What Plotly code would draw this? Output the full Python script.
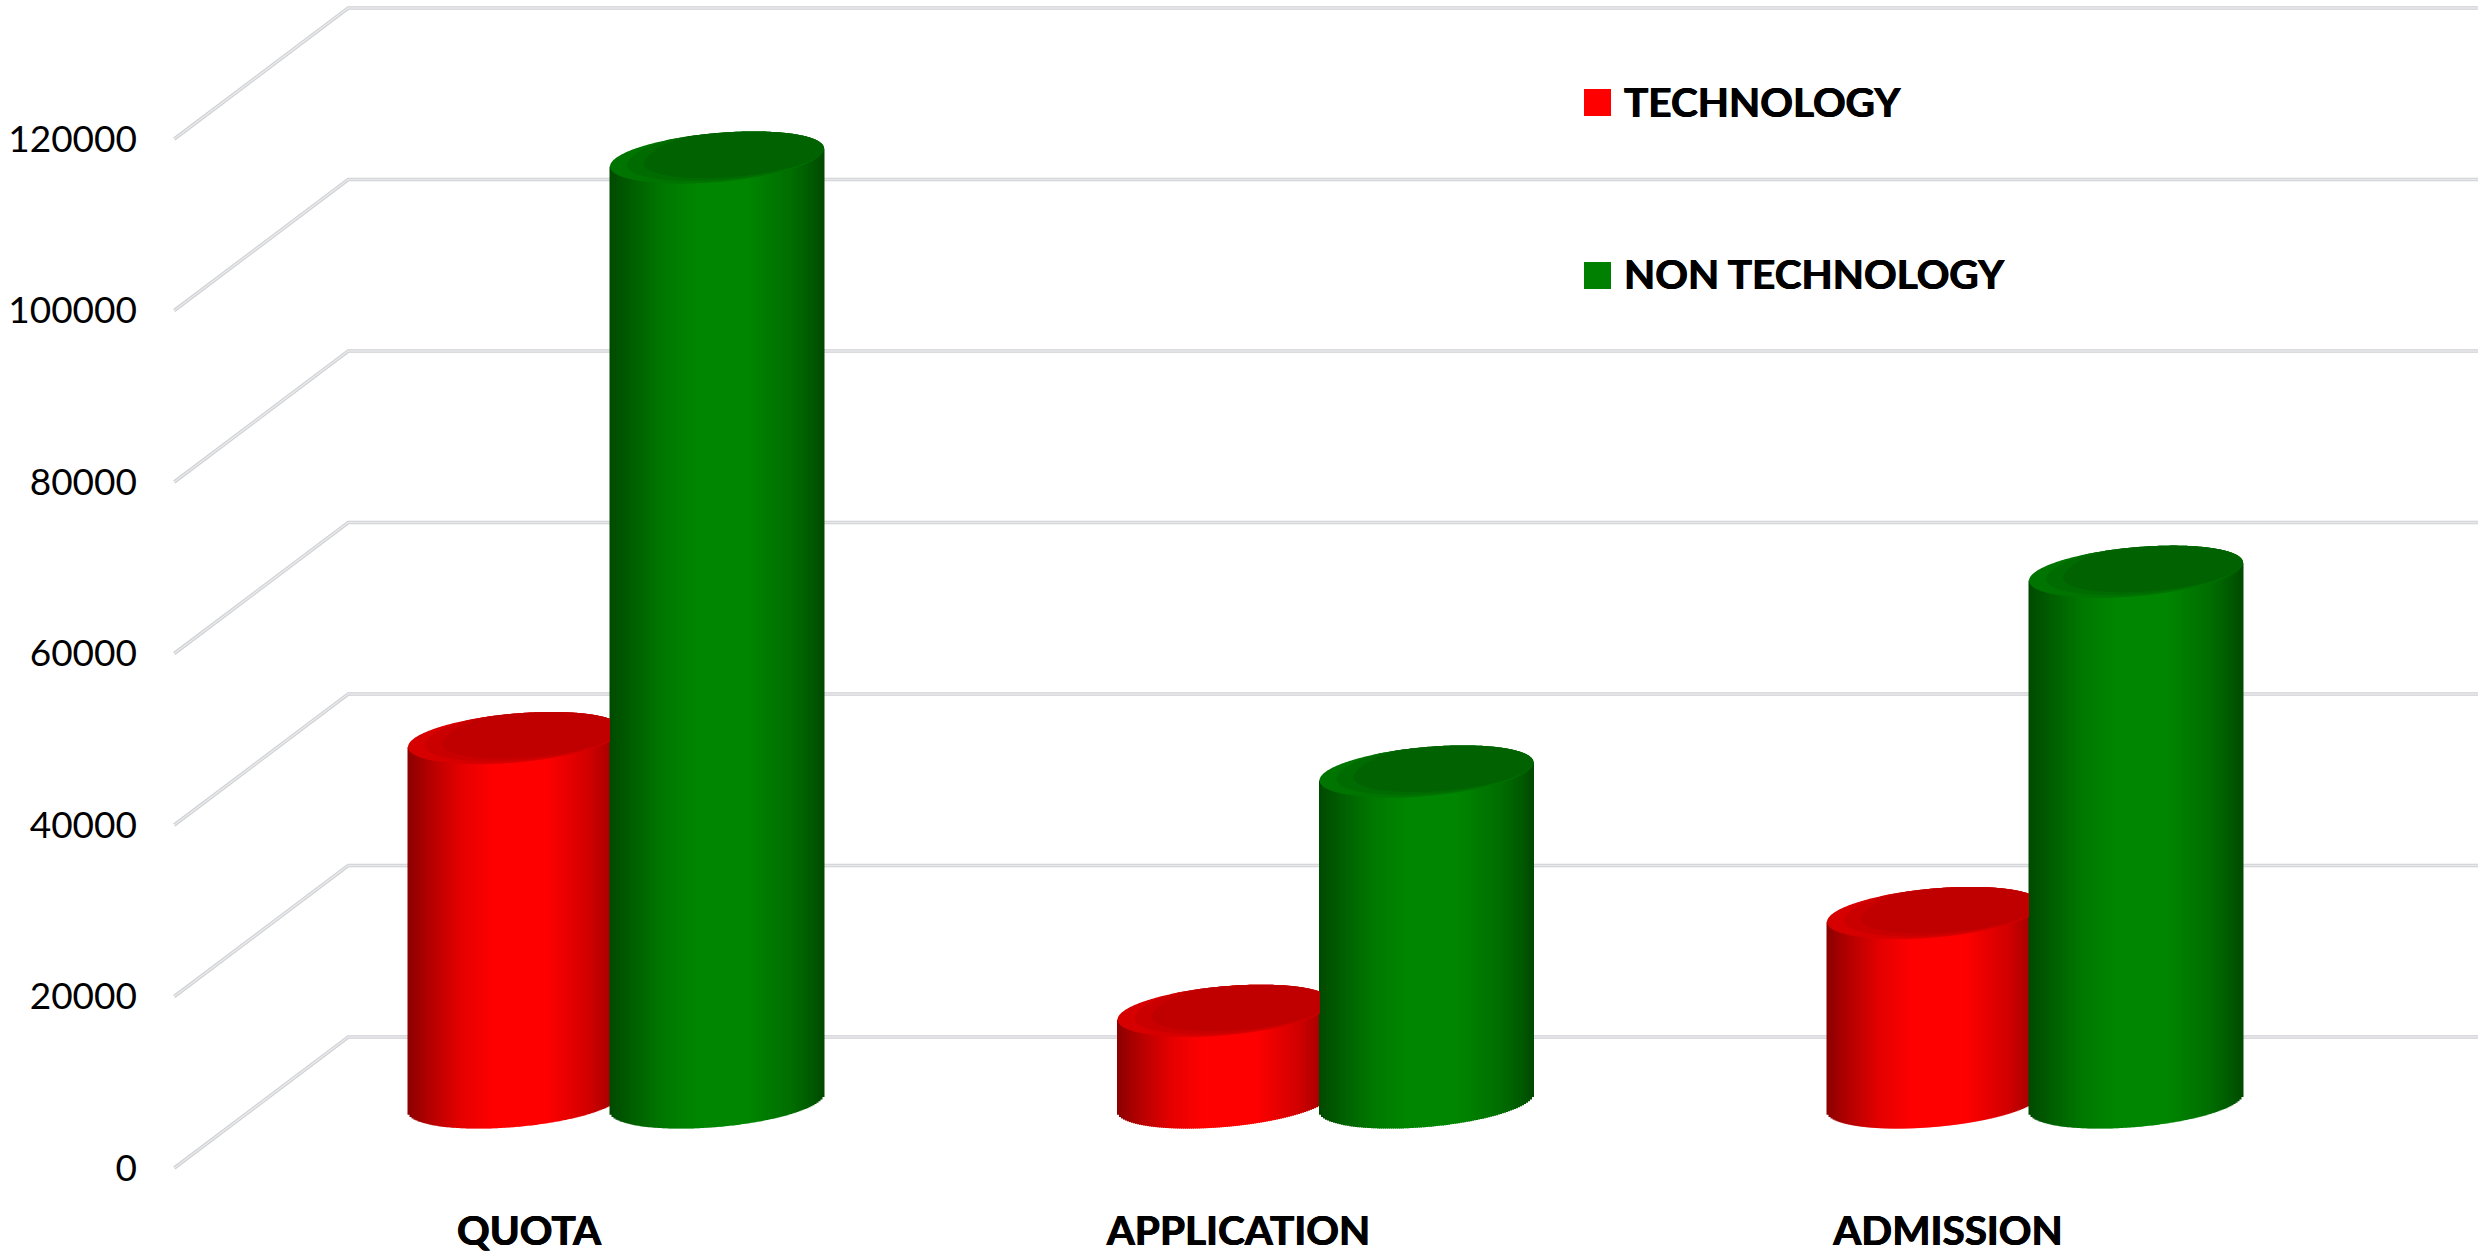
import numpy as np
import plotly.graph_objects as go

categories = ["QUOTA", "APPLICATION", "ADMISSION"]
technology = [42500, 10700, 22100]
non_technology = [110200, 38600, 61900]
y_ticks = [0, 20000, 40000, 60000, 80000, 100000, 120000]

WIDTH, HEIGHT = 2478, 1259

# pixel layout of the fake 3d box
PX_PER_CAT = 709.5
PX_PER_VAL = 171.5 / 20000
X0_PX = 529      # front plane position of the first category
Y0_PX = 1168     # front plane position of value 0
PLOT_LEFT = 168
PLOT_BOTTOM = 1174

DEPTH_X = 174 / PX_PER_CAT
DEPTH_Y = 131 / PX_PER_VAL
BOX_LEFT = -0.5
BOX_RIGHT = (WIDTH - X0_PX) / PX_PER_CAT

# cylinder shape, in axis units
HALF_W = 107 / PX_PER_CAT
BAR_OFFSET = 101 / PX_PER_CAT
TILT = 9 / PX_PER_VAL
ROUND = 24.5 / PX_PER_VAL
STRIP = 2 / PX_PER_CAT
STRIP_OVERLAP = 1 / PX_PER_CAT   # stops white gaps when edges round differently

x_range = [(PLOT_LEFT - X0_PX) / PX_PER_CAT, BOX_RIGHT]
y_range = [(Y0_PX - PLOT_BOTTOM) / PX_PER_VAL, Y0_PX / PX_PER_VAL]

# side shading across the cylinder
shade_pos = [0, 0.1, 0.25, 0.4, 0.65, 0.85, 0.95, 1]
shade_amt = [0.55, 0.7, 0.9, 1, 1, 0.82, 0.66, 0.55]


def lower_edge(u):
    return TILT * u - ROUND * np.sqrt(np.clip(1 - u ** 2, 0, 1))


def upper_edge(u):
    return TILT * u + ROUND * np.sqrt(np.clip(1 - u ** 2, 0, 1))


def body_trace(values, offset, rgb, name):
    xs, tops, bases, cols = [], [], [], []
    strips = np.arange(-HALF_W + STRIP / 2, HALF_W, STRIP)
    for i, v in enumerate(values):
        cx = i + DEPTH_X / 2 + offset
        for s in strips:
            u = s / HALF_W
            base = DEPTH_Y / 2 + lower_edge(u)
            top = DEPTH_Y / 2 + v + TILT * u
            amt = np.interp((u + 1) / 2, shade_pos, shade_amt)
            xs.append(cx + s)
            bases.append(base)
            tops.append(top - base)
            cols.append("rgb(%d,%d,%d)" % tuple(c * amt for c in rgb))
    return go.Bar(x=xs, y=tops, base=bases, width=STRIP + STRIP_OVERLAP, name=name,
                  marker=dict(color=cols, line=dict(width=0)), hoverinfo="skip")


def face_trace(i, v, offset, color, scale=1.0, limit=1.0):
    # scale pulls the lower left of the ellipse towards its right end, the top
    # edge stays on the full ellipse. limit cuts off the part hidden behind
    # the neighbouring cylinder
    cx = i + DEPTH_X / 2 + offset
    u_low = -np.cos(np.linspace(0, np.pi, 120))
    u2 = 1 - scale * (1 - u_low)
    low = TILT + scale * (lower_edge(u_low) - TILT)
    up = TILT + scale * (upper_edge(u_low) - TILT)
    blend = np.clip((u2 - u2[0]) / 0.4, 0, 1)
    up = up + blend * (upper_edge(u2) - up)
    x = np.concatenate([u2, u2[::-1]])
    y = np.concatenate([low, up[::-1]])
    return go.Scatter(x=cx + np.minimum(x, limit) * HALF_W, y=DEPTH_Y / 2 + v + y, mode="none",
                      fill="toself", fillcolor=color, showlegend=False,
                      hoverinfo="skip")


fig = go.Figure()
fig.add_trace(body_trace(technology, -BAR_OFFSET, (255, 0, 0), "TECHNOLOGY"))
fig.add_trace(body_trace(non_technology, BAR_OFFSET, (0, 134, 0), "NON TECHNOLOGY"))

hidden = (2 * BAR_OFFSET - HALF_W) / HALF_W
for i in range(len(categories)):
    fig.add_trace(face_trace(i, technology[i], -BAR_OFFSET, "#d60000", limit=hidden))
    fig.add_trace(face_trace(i, technology[i], -BAR_OFFSET, "#ca0000", scale=0.92, limit=hidden))
    fig.add_trace(face_trace(i, technology[i], -BAR_OFFSET, "#c00000", scale=0.84, limit=hidden))
    fig.add_trace(face_trace(i, non_technology[i], BAR_OFFSET, "#007400"))
    fig.add_trace(face_trace(i, non_technology[i], BAR_OFFSET, "#006b00", scale=0.92))
    fig.add_trace(face_trace(i, non_technology[i], BAR_OFFSET, "#006200", scale=0.84))

# floor to back wall grid lines, pale core on a darker line
for v in y_ticks:
    path = "M %f %f L %f %f L %f %f" % (BOX_LEFT, v, BOX_LEFT + DEPTH_X, v + DEPTH_Y,
                                        BOX_RIGHT, v + DEPTH_Y)
    fig.add_shape(type="path", xref="x", yref="y", layer="below", path=path,
                  line=dict(color="#cfd0d4", width=3.5))
    fig.add_shape(type="path", xref="x", yref="y", layer="below", path=path,
                  line=dict(color="#e8e9eb", width=1.5))

BOLD_SHADOW = "0.5px 0 0 #000, -0.5px 0 0 #000"

# legend, placed by hand
legend_items = [("TECHNOLOGY", "#ff0000", 101), ("NON TECHNOLOGY", "#008000", 274)]
for label, color, y_px in legend_items:
    fig.add_shape(type="rect", xref="paper", yref="paper",
                  x0=1584 / WIDTH, x1=1611 / WIDTH,
                  y0=1 - (y_px + 13.5 + 1.5) / HEIGHT, y1=1 - (y_px - 13.5 + 1.5) / HEIGHT,
                  fillcolor=color, line=dict(width=0))
    fig.add_annotation(text=label, xref="paper", yref="paper", showarrow=False,
                       x=1622 / WIDTH, y=1 - y_px / HEIGHT, xanchor="left", yanchor="middle",
                       font=dict(family="Lato", size=40.5, color="black", weight="bold",
                                 shadow=BOLD_SHADOW))

fig.update_layout(
    width=WIDTH, height=HEIGHT,
    margin=dict(l=0, r=0, t=0, b=0, autoexpand=False),
    paper_bgcolor="white", plot_bgcolor="white",
    barmode="overlay", showlegend=False,
    xaxis=dict(domain=[PLOT_LEFT / WIDTH, 1], range=x_range,
               tickmode="array", tickvals=list(range(len(categories))), ticktext=categories,
               tickfont=dict(family="Lato", size=40.5, color="black", weight="bold",
                             shadow=BOLD_SHADOW),
               ticks="", ticklabelstandoff=29,
               showgrid=False, zeroline=False, showline=False),
    yaxis=dict(domain=[1 - PLOT_BOTTOM / HEIGHT, 1], range=y_range,
               tickmode="array", tickvals=y_ticks, ticktext=[str(t) for t in y_ticks],
               tickfont=dict(family="Lato", size=37, color="black"),
               ticks="", ticklabelstandoff=30,
               showgrid=False, zeroline=False, showline=False),
)

fig.write_html("out.html", config=dict(displayModeBar=False),
               post_script="document.body.style.margin='0';")
